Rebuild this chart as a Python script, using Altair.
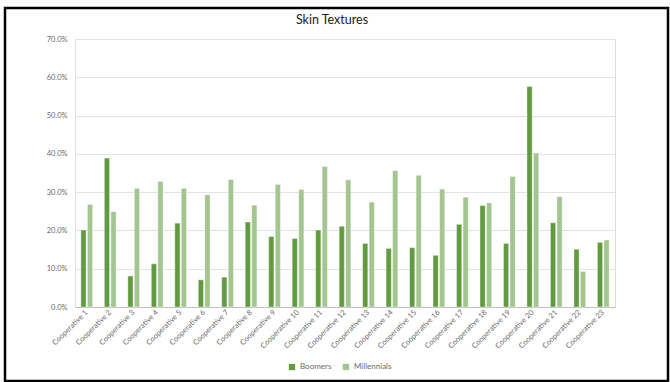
import altair as alt
import pandas as pd

title_text = "Skin Textures"
categories = [f"Cooperative {i}" for i in range(1, 24)]
boomers = [20.1, 38.9, 8.1, 11.3, 21.9, 7.1, 7.8, 22.2, 18.4, 17.9, 20.1, 21.1,
           16.6, 15.3, 15.5, 13.5, 21.6, 26.5, 16.6, 57.6, 22.0, 15.1, 16.9]
millennials = [26.8, 24.9, 31.0, 32.8, 31.0, 29.3, 33.3, 26.6, 32.0, 30.7, 36.7, 33.2,
               27.4, 35.6, 34.4, 30.8, 28.7, 27.2, 34.1, 40.2, 28.8, 9.3, 17.5]
series = ["Boomers", "Millennials"]
colors = ["#629B3F", "#A3C590"]

rows = []
for c, b, m in zip(categories, boomers, millennials):
    rows.append({"Cooperative": c, "Series": series[0], "Value": b / 100})
    rows.append({"Cooperative": c, "Series": series[1], "Value": m / 100})
df = pd.DataFrame(rows)

FONT = "Lato"

bars = alt.Chart(df).mark_bar(stroke="white", strokeWidth=0.4).encode(
    x=alt.X("Cooperative:N", sort=categories,
            scale=alt.Scale(paddingInner=0.5, paddingOuter=0.25),
            axis=alt.Axis(title=None, labelAngle=-45, labelAlign="right", labelBaseline="middle",
                          labelFontSize=7.5, labelColor="#6B6B6B", labelFont=FONT,
                          ticks=False, domainColor="#BFBFBF", labelPadding=4)),
    xOffset=alt.XOffset("Series:N", sort=series, scale=alt.Scale(paddingInner=0.2)),
    y=alt.Y("Value:Q", scale=alt.Scale(domain=[0, 0.7]),
            axis=alt.Axis(title=None, format=".1%", values=[0, 0.1, 0.2, 0.3, 0.4, 0.5, 0.6, 0.7],
                          labelFontSize=7.5, labelColor="#6B6B6B", labelFont=FONT,
                          ticks=False, domain=False, gridColor="#E3E3E3", labelPadding=8)),
    color=alt.Color("Series:N", sort=series,
                    scale=alt.Scale(domain=series, range=colors),
                    legend=alt.Legend(title=None, orient="none", legendX=213, legendY=324,
                                      direction="horizontal", symbolType="square",
                                      symbolSize=40, labelFontSize=8, labelColor="#6B6B6B",
                                      labelFont=FONT, columnPadding=10,
                                      symbolStrokeWidth=0)),
)

frame = alt.Chart(pd.DataFrame({"a": [0]})).mark_rect(
    filled=False, stroke="black", strokeWidth=2.5, clip=False
).encode(x=alt.value(-70), x2=alt.value(593), y=alt.value(-31), y2=alt.value(342))

title = alt.Chart(pd.DataFrame({"t": [title_text]})).mark_text(
    font=FONT, fontSize=12.5, color="#222222", align="center", baseline="middle", clip=False
).encode(text="t:N", x=alt.value(257), y=alt.value(-19))

chart = alt.layer(bars, frame, title).properties(
    width=540, height=268,
    autosize=alt.AutoSizeParams(type="none"),
    padding={"left": 75, "top": 39, "right": 55, "bottom": 75},
).configure_view(stroke=None).configure(background="white")

chart.save("out.html", embed_options={"renderer": "svg", "actions": False})
